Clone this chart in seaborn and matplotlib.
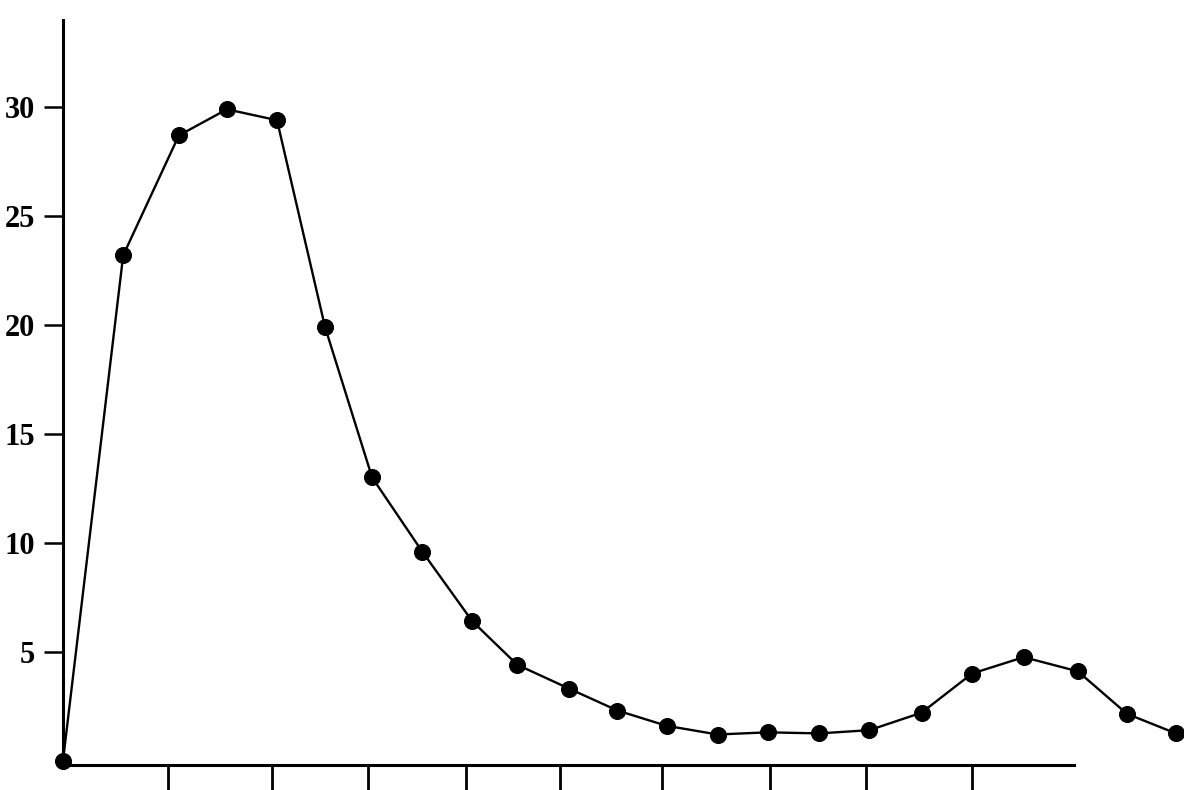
import numpy as np
import pandas as pd
import seaborn as sns
import matplotlib.pyplot as plt

# positions and values
step = [0.0, 1.19, 2.29, 3.24, 4.23, 5.18, 6.11, 7.10, 8.09, 8.98,
        10.01, 10.96, 11.93, 12.94, 13.93, 14.95, 15.94, 16.97, 17.97, 18.99,
        20.06, 21.03, 22.0]
value = [0.0, 23.2, 28.7, 29.9, 29.4, 19.9, 13.0, 9.6, 6.4, 4.4,
         3.3, 2.3, 1.6, 1.2, 1.3, 1.25, 1.4, 2.2, 4.0, 4.75,
         4.1, 2.15, 1.25]
x_ticks = [2.08, 4.13, 6.03, 7.96, 9.82, 11.84, 13.97, 15.87, 17.96]
y_ticks = [5, 10, 15, 20, 25, 30]

df = pd.DataFrame({'step': step, 'value': value})

sns.set_style('ticks')
plt.rcParams['font.family'] = ['Liberation Serif', 'DejaVu Serif']

fig = plt.figure(figsize=(11.84, 7.9), dpi=100)
ax = fig.add_axes([63 / 1184, 1 - 765 / 790, (1176 - 63) / 1184, (765 - 20) / 790])

sns.lineplot(data=df, x='step', y='value', ax=ax, color='black',
             linewidth=1.7, marker='o', markersize=11.5,
             markeredgecolor='black', clip_on=False, sort=False)

ax.set_xlim(0, 22)
ax.set_ylim(-0.2, 34)
ax.set_xticks(x_ticks)
ax.set_xticklabels([])
ax.set_yticks(y_ticks)
ax.set_yticklabels([str(v) for v in y_ticks], fontsize=22, fontweight='bold')
ax.set_xlabel('')
ax.set_ylabel('')

ax.tick_params(axis='y', direction='out', length=14, width=1.8, pad=6, colors='black')
ax.tick_params(axis='x', direction='out', length=20, width=2.0, colors='black')

for side in ['top', 'right']:
    ax.spines[side].set_visible(False)
ax.spines['left'].set_linewidth(2.2)
ax.spines['bottom'].set_linewidth(2.2)
ax.spines['left'].set_color('black')
ax.spines['bottom'].set_color('black')
ax.spines['bottom'].set_bounds(0, 19.98)

fig.savefig('out.png', dpi=100)
